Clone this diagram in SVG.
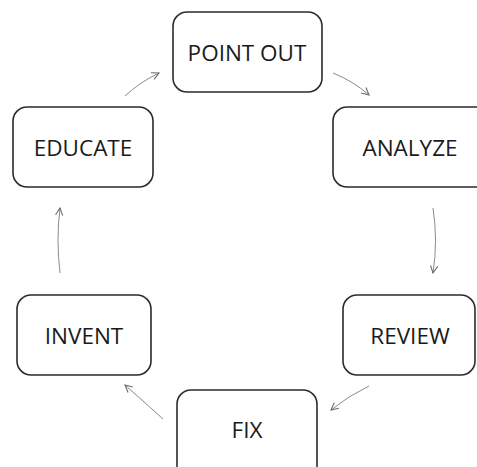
<svg xmlns="http://www.w3.org/2000/svg" width="477" height="467" viewBox="0 0 477 467">
<style>
.box{fill:#fff;stroke:#2b2b2b;stroke-width:1.6}
.lbl{font-family:"Open Sans","Liberation Sans",sans-serif;font-size:22.5px;fill:#1a1a1a;text-anchor:middle;dominant-baseline:central}
.conn{fill:none;stroke:#8a8a8a;stroke-width:1;marker-end:url(#ah)}
</style>
<defs>
<marker id="ah" viewBox="0 0 10 10" refX="9" refY="5" markerWidth="9" markerHeight="9" orient="auto" markerUnits="userSpaceOnUse">
<path d="M1,1 L9,5 L1,9" fill="none" stroke="#6a6a6a" stroke-width="1.2"/>
</marker>
</defs>
<rect width="477" height="467" fill="#fff"/>
<g id="connectors">
<path class="conn" d="M333,73 Q353,81 369,95"/>
<path class="conn" d="M433,208 Q438,240 433,273"/>
<path class="conn" d="M369,386 Q348,396 331,410"/>
<path class="conn" d="M163,419 Q142,400 125,385"/>
<path class="conn" d="M60,273 Q56,240 60,208"/>
<path class="conn" d="M125,96 Q140,82 159,73"/>
</g>
<g id="point-out"><rect class="box" x="173" y="12" width="149" height="80" rx="14"/><text class="lbl" x="247" y="52">POINT OUT</text></g>
<g id="analyze"><rect class="box" x="333" y="107" width="160" height="80" rx="14"/><text class="lbl" x="410" y="147">ANALYZE</text></g>
<g id="review"><rect class="box" x="343" y="295" width="132" height="80" rx="14"/><text class="lbl" x="410" y="335">REVIEW</text></g>
<g id="fix"><rect class="box" x="177" y="390" width="140" height="90" rx="14"/><text class="lbl" x="247" y="429">FIX</text></g>
<g id="invent"><rect class="box" x="17" y="295" width="134" height="80" rx="14"/><text class="lbl" x="84" y="335">INVENT</text></g>
<g id="educate"><rect class="box" x="13" y="107" width="140" height="80" rx="14"/><text class="lbl" x="83" y="147">EDUCATE</text></g>
</svg>
